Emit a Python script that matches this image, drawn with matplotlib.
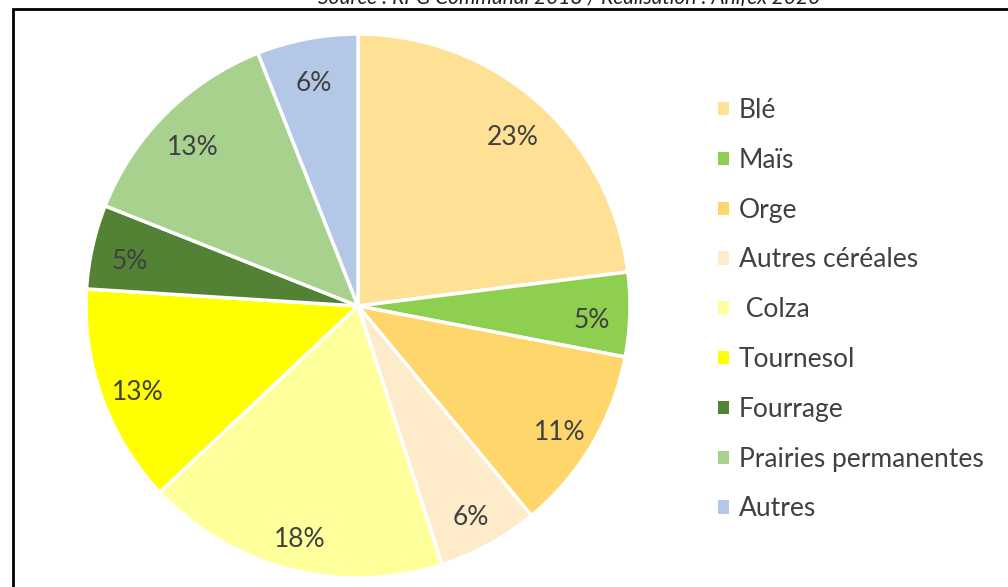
import matplotlib
matplotlib.use("Agg")
import matplotlib.pyplot as plt
import matplotlib.transforms as mtransforms
from matplotlib.patches import Rectangle, Patch

# Assolement (part de la SAU, %)
categories = ["Blé", "Maïs", "Orge", "Autres céréales", " Colza",
              "Tournesol", "Fourrage", "Prairies permanentes", "Autres"]
shares = [23, 5, 11, 6, 18, 13, 5, 13, 6]
colors = ["#FFE196", "#8FCF4F", "#FFD66C", "#FDEBC9", "#FFFF9C",
          "#FFFF00", "#548235", "#A9D18E", "#B4C7E7"]
source = "Source : RPG Communal 2018 / Réalisation : Anifex 2020"

W, H = 1008, 587
fig = plt.figure(figsize=(W / 100, H / 100), dpi=100)
fig.patch.set_facecolor("white")

FONT = ["Lato", "DejaVu Sans"]
TXT = "#404040"

# Cadre
frame = Rectangle((13 / W, -0.05), 1.1, (H - 9) / H + 0.05, transform=fig.transFigure,
                  fill=False, edgecolor="black", linewidth=2.0, clip_on=False)
fig.add_artist(frame)

# Source (bandeau au-dessus du cadre)
fig.text(569 / W, 1 + 2 / H, source, ha="center", va="center", fontsize=15,
         style="italic", color="#202020", family=FONT)

# Camembert
cx, cy, r = 358, 306, 272
ax = fig.add_axes([(cx - r) / W, (H - cy - r) / H, 2 * r / W, 2 * r / H])
wedges, texts, autotexts = ax.pie(
    shares, colors=colors, startangle=90, counterclock=False,
    autopct=lambda p: f"{p:.0f}%", pctdistance=0.86,
    wedgeprops=dict(edgecolor="white", linewidth=2.5),
    textprops=dict(fontsize=19, color=TXT, family=FONT))
ax.set_xlim(-1, 1)
ax.set_ylim(-1, 1)
ax.set_aspect("equal")
for w in wedges:
    w.set_clip_on(False)
shift = mtransforms.offset_copy(ax.transData, fig=fig, x=0, y=-7, units="dots")
for t in autotexts:
    t.set_transform(shift)

# Légende
handles = [Patch(facecolor=c, edgecolor="none") for c in colors]
leg = fig.legend(handles, categories, loc="upper left",
                 bbox_to_anchor=(718 / W, 1 - 98 / H), borderpad=0,
                 borderaxespad=0,
                 frameon=False, handlelength=0.4, handleheight=0.4,
                 handletextpad=0.4, labelspacing=0.94,
                 prop=dict(family=FONT, size=19))
for t in leg.get_texts():
    t.set_color(TXT)

fig.savefig("out.png", dpi=100)
